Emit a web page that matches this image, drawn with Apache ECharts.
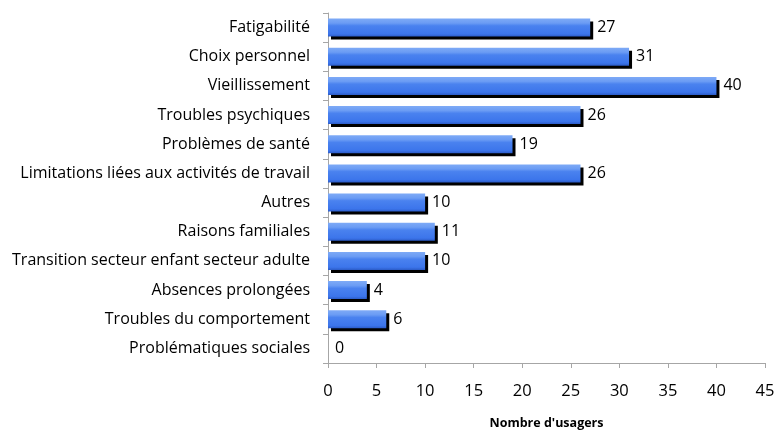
<!DOCTYPE html>
<html>
<head>
<meta charset="utf-8">
<script src="https://cdn.jsdelivr.net/npm/echarts@6/dist/echarts.min.js"></script>
<style>
  html, body { margin: 0; padding: 0; background: #fff; }
  #chart { width: 775px; height: 430px; }
</style>
</head>
<body>
<div id="chart"></div>
<script>
// motifs de sortie, du haut vers le bas
const categories = [
  'Fatigabilité',
  'Choix personnel',
  'Vieillissement',
  'Troubles psychiques',
  'Problèmes de santé',
  'Limitations liées aux activités de travail',
  'Autres',
  'Raisons familiales',
  'Transition secteur enfant secteur adulte',
  'Absences prolongées',
  'Troubles du comportement',
  'Problématiques sociales'
]
const usagers = [27, 31, 40, 26, 19, 26, 10, 11, 10, 4, 6, 0]
const xTicks = [0, 5, 10, 15, 20, 25, 30, 35, 40, 45]

const chart = echarts.init(document.getElementById('chart'))
const font = '"Open Sans", sans-serif'

chart.setOption({
  animation: false,
  grid: { left: 328, right: 10, top: 13, bottom: 67, outerBoundsMode: 'none' },
  xAxis: {
    type: 'value',
    min: xTicks[0],
    max: xTicks[xTicks.length - 1],
    interval: 5,
    name: "Nombre d'usagers",
    nameLocation: 'middle',
    nameGap: 54,
    nameTextStyle: { fontFamily: font, fontSize: 12.5, fontWeight: 'bold', color: '#000' },
    axisLine: { show: true, lineStyle: { color: '#a6a6a6' } },
    axisTick: { show: true, length: 5, lineStyle: { color: '#a6a6a6' } },
    axisLabel: { fontFamily: font, fontSize: 16.5, color: '#000', margin: 20 },
    splitLine: { show: false }
  },
  yAxis: {
    type: 'category',
    data: categories,
    inverse: true,
    axisLine: { lineStyle: { color: '#a6a6a6' } },
    axisTick: { show: true, length: 5, lineStyle: { color: '#a6a6a6' } },
    axisLabel: { fontFamily: font, fontSize: 16, color: '#000', margin: 18 }
  },
  series: [{
    type: 'bar',
    data: usagers,
    barWidth: 18,
    itemStyle: {
      color: new echarts.graphic.LinearGradient(0, 0, 0, 1, [
        { offset: 0, color: '#7eaaf6' },
        { offset: 0.25, color: '#6b9cf4' },
        { offset: 0.4, color: '#4a82ef' },
        { offset: 0.85, color: '#3c75eb' },
        { offset: 1, color: '#2c5cc8' }
      ]),
      shadowColor: '#000',
      shadowOffsetX: 3,
      shadowOffsetY: 3,
      shadowBlur: 0
    },
    label: {
      show: true,
      position: 'right',
      distance: 7,
      fontFamily: font,
      fontSize: 16,
      color: '#000'
    }
  }]
})
</script>
</body>
</html>
